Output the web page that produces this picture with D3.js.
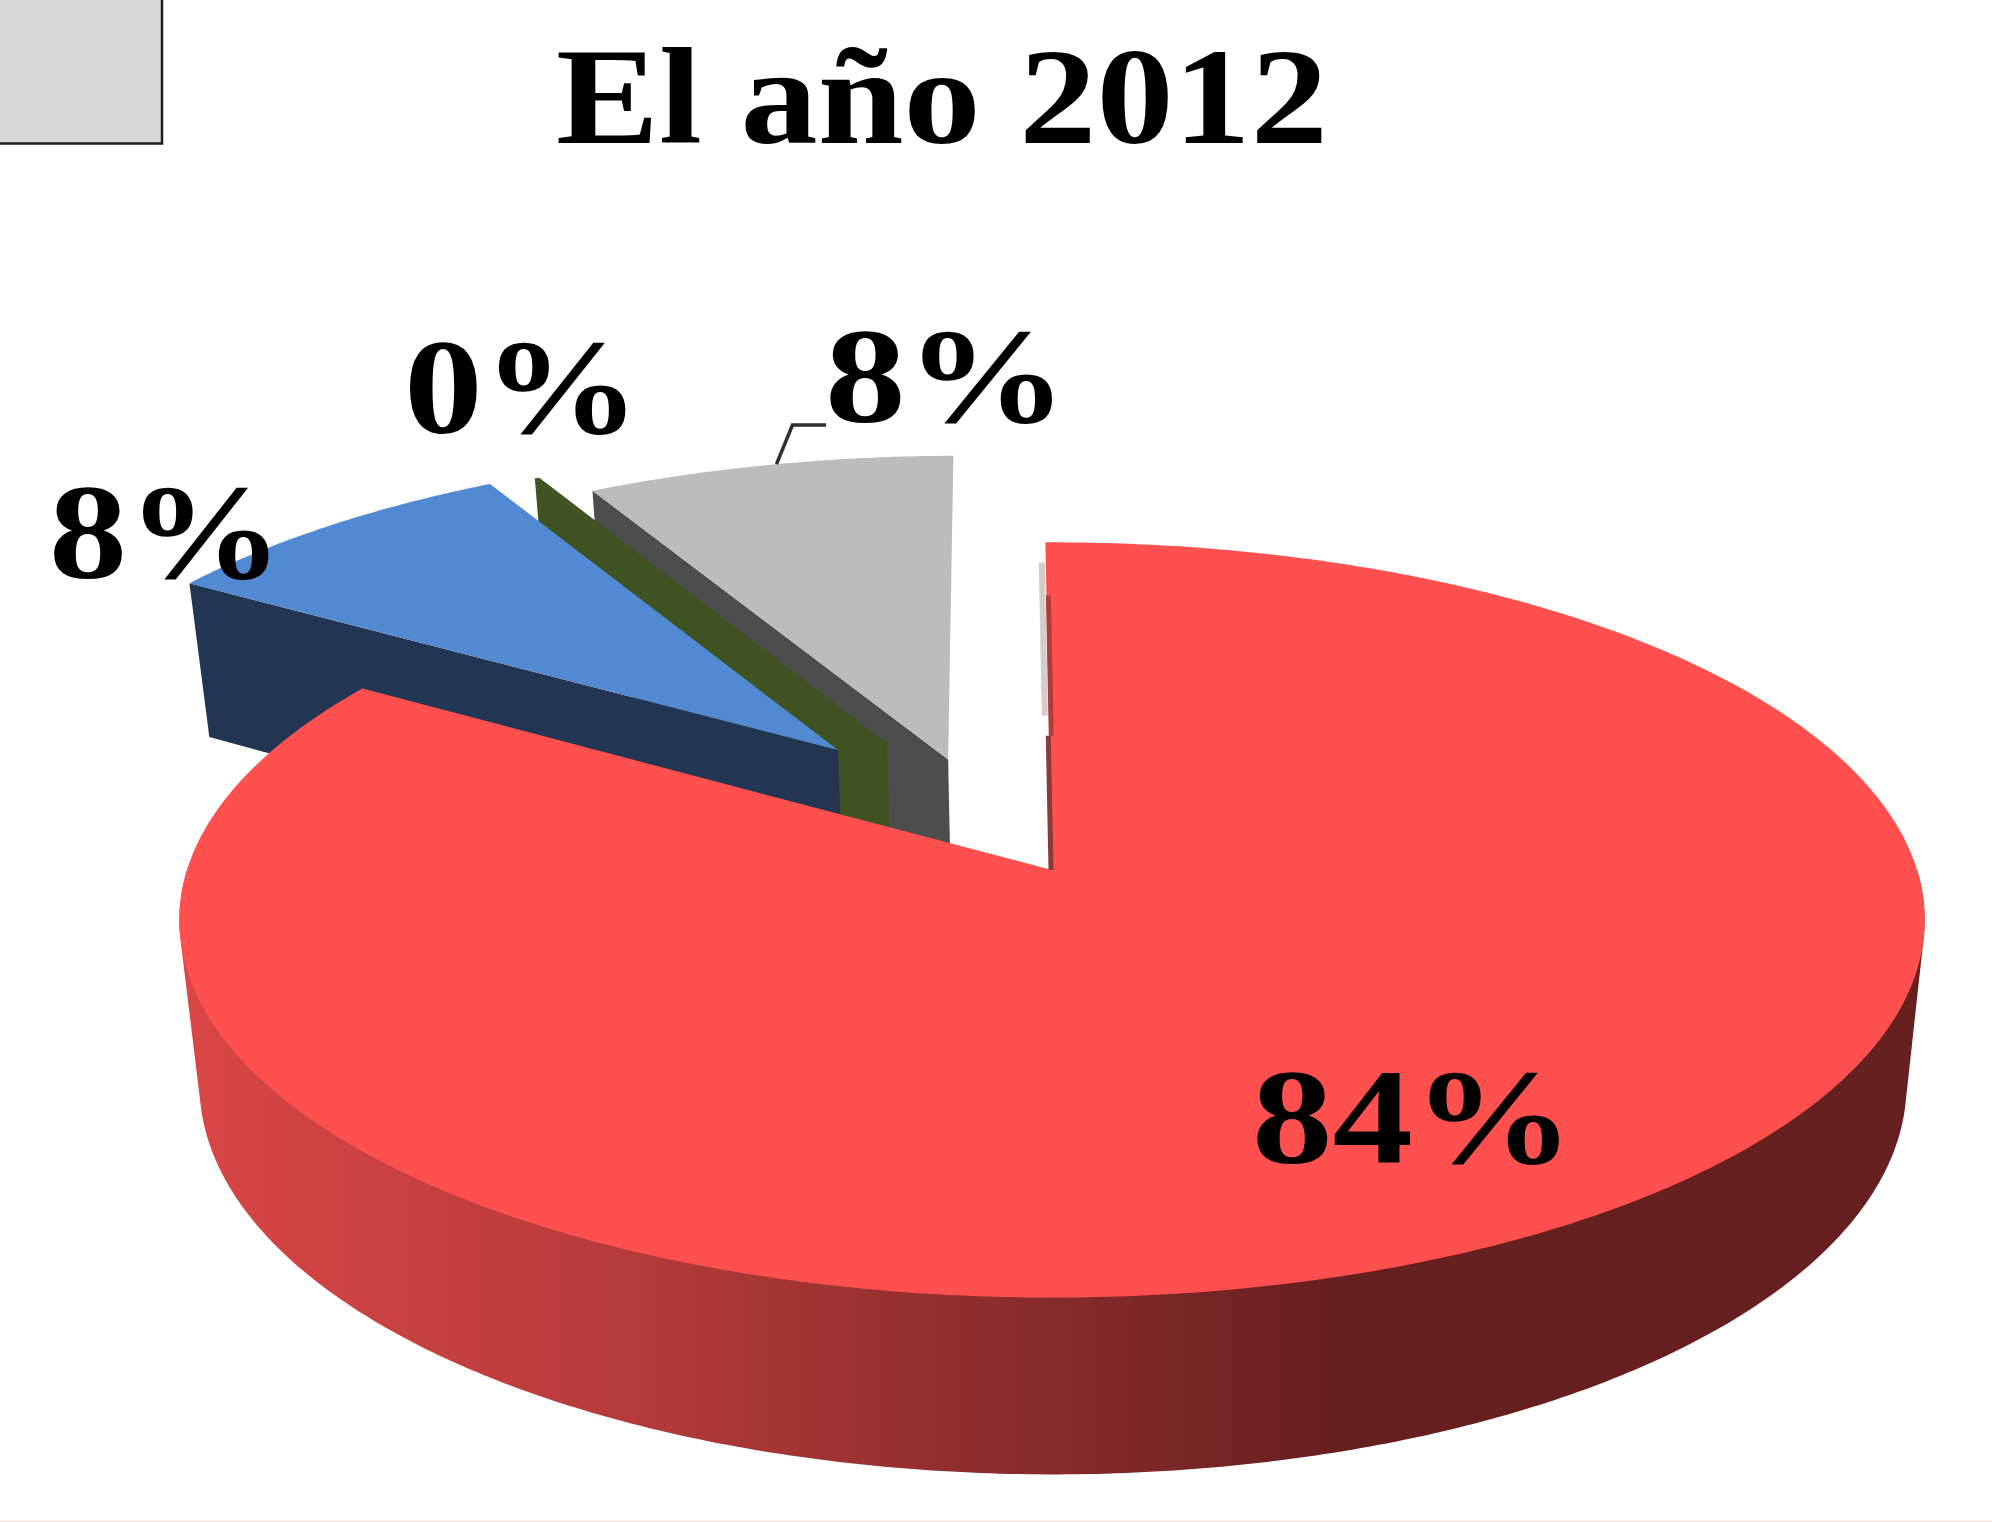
<!DOCTYPE html>
<html>
<head>
<meta charset="utf-8">
<title>El año 2012</title>
<script src="https://cdn.jsdelivr.net/npm/d3@7"></script>
<style>
html,body{margin:0;padding:0;background:#fff;overflow:hidden}
svg{display:block}
text{font-family:"Liberation Serif","Times New Roman",serif;font-weight:bold;fill:#000}
</style>
</head>
<body>
<svg id="chart" width="1992" height="1522"></svg>
<script>
// ---- data (clockwise from 12 o'clock) ----
const chartTitle = "El año 2012";
const sliceKeys = ["rojo", "azul", "verde", "gris"];
const sliceValues = [83.9, 8.0, 0.1, 8.0];

// ---- style ----
const topColors = ["#ff5050", "#5189d2", "#3e5321", "#bcbcbc"];
const wallColors = ["#d94646", "#223553", "#3e5321", "#4d4d4d"];
const redWallStops = [[190, "#d94646"], [635, "#b53a3a"], [1016, "#8a2c2c"], [1350, "#651f1f"], [1906, "#662020"]];

// ---- layout ----
const explode = [[0, 0], [-0.2585, -0.3377], [-0.1998, -0.3556], [-0.125, -0.31]];
const paintOrder = [3, 2, 1, 0];
const labelBoxes = [
  {x: 1252, y: 1163, w: 322},
  {x: 49, y: 578, w: 234},
  {x: 404, y: 433, w: 236},
  {x: 825, y: 422, w: 242}
];
const persp = 0.1323;
const firstAngle = -0.5 * Math.PI / 180;
const level = {
  top: {cx: 1052, cy: 870, k: 865, b: 371},
  bottom: {cx: 1053, cy: 1033, k: 846, b: 383}
};

const svg = d3.select("#chart");

// pie layout gives the angles; a projective map puts the plane on screen
const arcs = d3.pie().sort(null).value(d => d)
  .startAngle(firstAngle).endAngle(firstAngle + 2 * Math.PI)(sliceValues);

function project(X, Y, lv) {
  const d = 1 - persp * Y;
  return [lv.cx + lv.k * X / d, lv.cy + lv.b * Y / d];
}
function polar(a, r, off, lv) {
  return project(off[0] + r * Math.sin(a), off[1] - r * Math.cos(a), lv);
}
function rim(a0, a1, off, lv) {
  const n = Math.max(2, Math.ceil(Math.abs(a1 - a0) / 0.01));
  return d3.range(n + 1).map(i => polar(a0 + (a1 - a0) * i / n, 1, off, lv));
}
const line = d3.line();
const closed = pts => line(pts) + "Z";

// red wall gradient
const defs = svg.append("defs");
const grad = defs.append("linearGradient")
  .attr("id", "redWall").attr("gradientUnits", "userSpaceOnUse")
  .attr("x1", redWallStops[0][0]).attr("x2", redWallStops[redWallStops.length - 1][0])
  .attr("y1", 0).attr("y2", 0);
const x0 = redWallStops[0][0], x1 = redWallStops[redWallStops.length - 1][0];
grad.selectAll("stop").data(redWallStops).join("stop")
  .attr("offset", d => (d[0] - x0) / (x1 - x0))
  .attr("stop-color", d => d[1]);

// grey box, top-left corner
svg.append("rect").attr("x", -10).attr("y", -10).attr("width", 172).attr("height", 153.5)
  .attr("fill", "#d8d8d8").attr("stroke", "#1c1c1c").attr("stroke-width", 2.5);

// bottom page rule
svg.append("line").attr("x1", 0).attr("x2", 1992).attr("y1", 1521.5).attr("y2", 1521.5)
  .attr("stroke", "#efd4cf").attr("stroke-width", 1);

// slices
paintOrder.forEach(i => {
  const a = arcs[i], off = explode[i];
  const g = svg.append("g").attr("class", "slice-" + sliceKeys[i]);
  if (i === 0) {
    // outer curved wall: hull of the front half of both rims
    const upper = rim(Math.PI / 2, 3 * Math.PI / 2, off, level.top);
    const lower = rim(Math.PI / 2, 3 * Math.PI / 2, off, level.bottom);
    g.append("path").attr("d", closed(d3.polygonHull(upper.concat(lower)))).attr("fill", "url(#redWall)");
  } else {
    // cut face below the slice's starting radius
    const tipT = polar(a.startAngle, 1, off, level.top);
    const tipB = polar(a.startAngle, 1, off, level.bottom);
    const apexT = polar(0, 0, off, level.top);
    const apexB = polar(0, 0, off, level.bottom);
    g.append("path").attr("d", closed([tipT, apexT, apexB, tipB])).attr("fill", wallColors[i]);
  }
  const apex = polar(0, 0, off, level.top);
  const top = [apex].concat(rim(a.startAngle, a.endAngle, off, level.top));
  g.append("path").attr("d", closed(top)).attr("fill", topColors[i])
    .attr("stroke", i === 2 ? topColors[i] : "none").attr("stroke-width", 1);
  if (i === 0) {
    // the start-edge cut face, seen almost edge-on
    const p0 = polar(a.startAngle, 0.82, off, level.top),
          p1 = polar(a.startAngle, 0.38, off, level.top),
          pf0 = polar(a.startAngle, 0.93, off, level.top),
          pf1 = polar(a.startAngle, 0.44, off, level.top);
    g.append("path").attr("d", line([pf0, pf1])).attr("transform", "translate(-4,0)")
      .attr("stroke", "#d5cccc").attr("stroke-width", 6).attr("fill", "none");
    g.append("path").attr("d", line([p0, p1])).attr("transform", "translate(2,0)")
      .attr("stroke", "#b03c3c").attr("stroke-width", 5).attr("fill", "none");
    g.append("path").attr("d", line([p1, apex])).attr("transform", "translate(-1,0)")
      .attr("stroke", "#8a3a3a").attr("stroke-width", 5).attr("fill", "none");
  }
});

// leader line for the last slice
const leaderAnchor = polar(arcs[3].startAngle + (arcs[3].endAngle - arcs[3].startAngle) * 0.52, 1, explode[3], level.top);
svg.append("path")
  .attr("d", line([leaderAnchor, [leaderAnchor[0] + 16, 425], [826, 425]]))
  .attr("fill", "none").attr("stroke", "#2e2e2e").attr("stroke-width", 3.5);

// data labels
const fmt = d => d3.format(".0f")(d) + "%";
svg.selectAll("text.label").data(sliceValues).join("text")
  .attr("class", "label")
  .attr("x", (d, i) => labelBoxes[i].x)
  .attr("y", (d, i) => labelBoxes[i].y)
  .attr("font-size", 136)
  .attr("textLength", (d, i) => labelBoxes[i].w)
  .attr("lengthAdjust", "spacingAndGlyphs")
  .text(fmt);

// title
svg.append("text").attr("x", 556).attr("y", 143)
  .attr("font-size", 138)
  .attr("textLength", 772).attr("lengthAdjust", "spacingAndGlyphs")
  .text(chartTitle);
</script>
</body>
</html>
